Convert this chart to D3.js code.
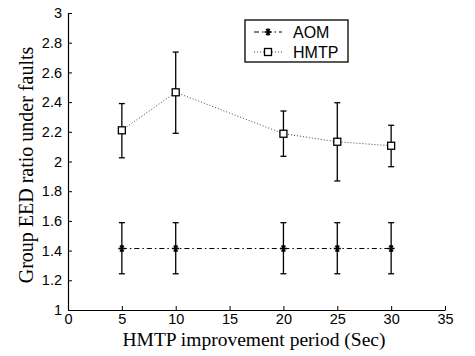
<!DOCTYPE html>
<html>
<head>
<meta charset="utf-8">
<script src="https://cdn.jsdelivr.net/npm/d3@7"></script>
<style>
  body { margin: 0; background: #fff; }
  svg { display: block; }
</style>
</head>
<body>
<svg id="chart" width="475" height="356"></svg>
<script>
// data
const periods = [5, 10, 20, 25, 30];
const aomMean = [1.414, 1.414, 1.414, 1.414, 1.414];
const aomLow = [1.244, 1.244, 1.244, 1.244, 1.244];
const aomHigh = [1.588, 1.588, 1.588, 1.588, 1.588];
const hmtpMean = [2.21, 2.466, 2.187, 2.133, 2.106];
const hmtpLow = [2.025, 2.19, 2.035, 1.869, 1.965];
const hmtpHigh = [2.39, 2.737, 2.34, 2.396, 2.244];
const xTicks = [0, 5, 10, 15, 20, 25, 30, 35];
const yTicks = [1, 1.2, 1.4, 1.6, 1.8, 2, 2.2, 2.4, 2.6, 2.8, 3];

const margin = { top: 13, right: 30, bottom: 46, left: 68 };
const width = 475, height = 356;

const svg = d3.select('#chart');

const xScale = d3.scaleLinear()
  .domain([0, 35])
  .range([margin.left, width - margin.right]);

const yScale = d3.scaleLinear()
  .domain([1, 3])
  .range([height - margin.bottom, margin.top]);

// axes, ticks pointing inward like matlab
const xAxis = svg.append('g')
  .attr('transform', `translate(0, ${height - margin.bottom})`)
  .call(d3.axisBottom(xScale).tickValues(xTicks).tickSizeInner(-4).tickSizeOuter(0).tickPadding(6).tickFormat(d3.format('d')));

const yAxis = svg.append('g')
  .attr('transform', `translate(${margin.left}, 0)`)
  .call(d3.axisLeft(yScale).tickValues(yTicks).tickSizeInner(-4).tickSizeOuter(0).tickPadding(6).tickFormat(d => d3.format('')(+d.toFixed(1))));

[xAxis, yAxis].forEach(ax => {
  ax.select('.domain').attr('stroke', '#000').attr('stroke-width', 1.2);
  ax.selectAll('.tick line').attr('stroke', '#000');
  ax.selectAll('text')
    .attr('font-family', 'Liberation Sans, Arial, sans-serif')
    .attr('font-size', 14.5)
    .attr('fill', '#000');
});
xAxis.selectAll('text').attr('dy', '0.55em');

// axis labels
svg.append('text')
  .attr('text-anchor', 'middle')
  .attr('x', 254)
  .attr('y', 346)
  .attr('font-family', 'Liberation Serif, Times New Roman, serif')
  .attr('font-size', 19.5)
  .text('HMTP improvement period (Sec)');

svg.append('text')
  .attr('text-anchor', 'middle')
  .attr('transform', 'translate(33, 165) rotate(-90)')
  .attr('font-family', 'Liberation Serif, Times New Roman, serif')
  .attr('font-size', 20)
  .text('Group EED ratio under faults');

const line = d3.line()
  .x(d => xScale(d.x))
  .y(d => yScale(d.y));

function drawSeries(mean, low, high, dash, color) {
  const pts = periods.map((p, i) => ({ x: p, y: mean[i], lo: low[i], hi: high[i] }));
  svg.append('path')
    .datum(pts)
    .attr('fill', 'none')
    .attr('stroke', color)
    .attr('stroke-width', 1)
    .attr('stroke-dasharray', dash)
    .attr('d', line);

  const bars = svg.append('g').selectAll('g')
    .data(pts)
    .enter()
    .append('g');
  bars.append('line')
    .attr('x1', d => xScale(d.x)).attr('x2', d => xScale(d.x))
    .attr('y1', d => yScale(d.lo)).attr('y2', d => yScale(d.hi))
    .attr('stroke', '#000').attr('stroke-width', 1.3);
  ['lo', 'hi'].forEach(k => {
    bars.append('line')
      .attr('x1', d => xScale(d.x) - 3).attr('x2', d => xScale(d.x) + 3)
      .attr('y1', d => yScale(d[k])).attr('y2', d => yScale(d[k]))
      .attr('stroke', '#000').attr('stroke-width', 1.3);
  });
  return pts;
}

function star(g, cx, cy) {
  const r = 3.5;
  [0, 60, 120].forEach(a => {
    const rad = a * Math.PI / 180;
    g.append('line')
      .attr('x1', cx - r * Math.cos(rad)).attr('y1', cy - r * Math.sin(rad))
      .attr('x2', cx + r * Math.cos(rad)).attr('y2', cy + r * Math.sin(rad))
      .attr('stroke', '#000').attr('stroke-width', 1.6);
  });
  g.append('line')
    .attr('x1', cx).attr('y1', cy - r).attr('x2', cx).attr('y2', cy + r)
    .attr('stroke', '#000').attr('stroke-width', 1.6);
}

function square(g, cx, cy) {
  g.append('rect')
    .attr('x', cx - 3.5).attr('y', cy - 3.5)
    .attr('width', 7).attr('height', 7)
    .attr('fill', '#fff').attr('stroke', '#000').attr('stroke-width', 1.3);
}

const aomPts = drawSeries(aomMean, aomLow, aomHigh, '5,3,1.5,3', '#000');
const hmtpPts = drawSeries(hmtpMean, hmtpLow, hmtpHigh, '1,2', '#444');

const marks = svg.append('g');
aomPts.forEach(d => star(marks, xScale(d.x), yScale(d.y)));
hmtpPts.forEach(d => square(marks, xScale(d.x), yScale(d.y)));

// legend
const legend = svg.append('g').attr('transform', 'translate(245, 20)');
legend.append('rect')
  .attr('width', 103).attr('height', 42)
  .attr('fill', '#fff').attr('stroke', '#000').attr('stroke-width', 1.3);

const legendItems = [
  { name: 'AOM', dash: '5,3,1.5,3', color: '#000', mark: star },
  { name: 'HMTP', dash: '1,2', color: '#444', mark: square }
];
legendItems.forEach((it, i) => {
  const y = 12 + i * 20;
  legend.append('line')
    .attr('x1', 9).attr('x2', 37).attr('y1', y).attr('y2', y)
    .attr('stroke', it.color).attr('stroke-dasharray', it.dash);
  it.mark(legend, 23, y);
  legend.append('text')
    .attr('x', 48).attr('y', y + 5.5)
    .attr('font-family', 'Liberation Sans, Arial, sans-serif')
    .attr('font-size', 16)
    .text(it.name);
});
</script>
</body>
</html>
